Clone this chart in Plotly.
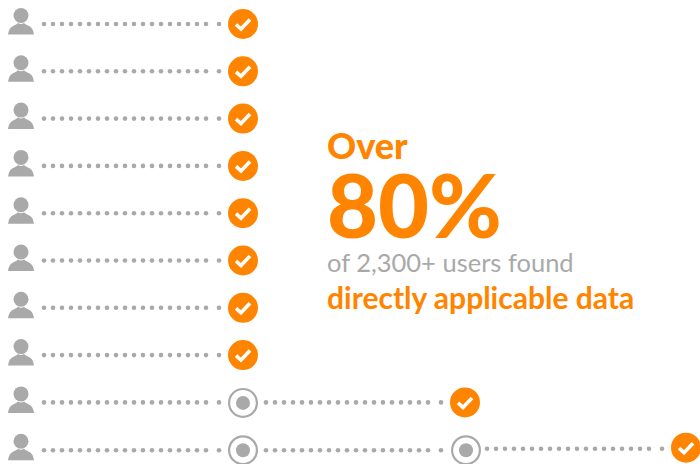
import plotly.graph_objects as go

# One entry per user: how many attempts until the data was found
attempts_per_user = [1, 1, 1, 1, 1, 1, 1, 1, 2, 3]
headline_over = "Over"
headline_pct = "80%"
line_grey = "of 2,300+ users found"
line_orange = "directly applicable data"

ORANGE = "#ff8400"
GREY = "#a9a9a9"
ROW0, ROW_STEP = 24, 47.3
NODE_X = [243, 465, 686]
DOT_OFFS = [-199 + 9 * i for i in range(19)] + [-24]

fig = go.Figure()
dx, dy, ring_x, ring_y, ok_x, ok_y, chk_x, chk_y, head_x, head_y = ([] for _ in range(10))
shapes = []
for r, n in enumerate(attempts_per_user):
    y = ROW0 + ROW_STEP * r
    head_x.append(21); head_y.append(y - 8.5)
    shapes.append(dict(type="path", line_width=0, fillcolor=GREY, layer="below",
        path=f"M 8 {y+10.5} Q 9 {y+3} 14 {y+1.5} Q 17 {y} 18 {y-1} Q 21 {y+1} 24 {y-1} "
             f"Q 25 {y} 28 {y+1.5} Q 33 {y+3} 34 {y+10.5} Z"))
    for k in range(n):
        nx = NODE_X[k]
        for o in DOT_OFFS:
            dx.append(nx + o); dy.append(y + (0.5 if n == 3 and k < 2 else 0) - (1 if n == 3 and k == 2 else 0))
        if k == n - 1:
            yy = y - (2 if n == 3 else 0)
            ok_x.append(nx); ok_y.append(yy)
            chk_x += [nx - 7, nx - 2, nx + 7, None]
            chk_y += [yy + 0.5, yy + 5, yy - 4.5, None]
        else:
            ring_x.append(nx + (1 if k == 1 else 0)); ring_y.append(y + 0.5)

fig.add_trace(go.Scatter(x=dx, y=dy, mode="markers", marker=dict(size=4.6, color=GREY), hoverinfo="skip"))
fig.add_trace(go.Scatter(x=head_x, y=head_y, mode="markers",
                         marker=dict(size=15, color=GREY), hoverinfo="skip"))
fig.add_trace(go.Scatter(x=ring_x, y=ring_y, mode="markers",
                         marker=dict(size=27.8, color="white", line=dict(color=GREY, width=2.2)), hoverinfo="skip"))
fig.add_trace(go.Scatter(x=ring_x, y=ring_y, mode="markers",
                         marker=dict(size=14, color=GREY), hoverinfo="skip"))
fig.add_trace(go.Scatter(x=ok_x, y=ok_y, mode="markers",
                         marker=dict(size=30, color=ORANGE), hoverinfo="skip"))
fig.add_trace(go.Scatter(x=chk_x, y=chk_y, mode="lines",
                         line=dict(color="white", width=3.6), hoverinfo="skip"))

F = "Lato"
def label(txt, y, size, color, weight=700):
    fig.add_annotation(x=327, y=y, text=txt, showarrow=False,
                       xanchor="left", yanchor="middle", xshift=-2,
                       font=dict(family=F, size=size, color=color, weight=weight))
label(headline_over, 144.5, 36, ORANGE, 900)
label(headline_pct, 204, 88, ORANGE, 900)
label(line_grey, 262, 25.5, GREY, 400)
label(line_orange, 297, 30, ORANGE, 700)

fig.update_layout(width=700, height=464, margin=dict(l=0, r=0, t=0, b=0), showlegend=False,
                  plot_bgcolor="white", paper_bgcolor="white", shapes=shapes,
                  xaxis=dict(range=[0, 700], visible=False, fixedrange=True),
                  yaxis=dict(range=[464, 0], visible=False, fixedrange=True))
fig.write_html("out.html", config={"displayModeBar": False},
               post_script="document.body.style.margin='0';")
